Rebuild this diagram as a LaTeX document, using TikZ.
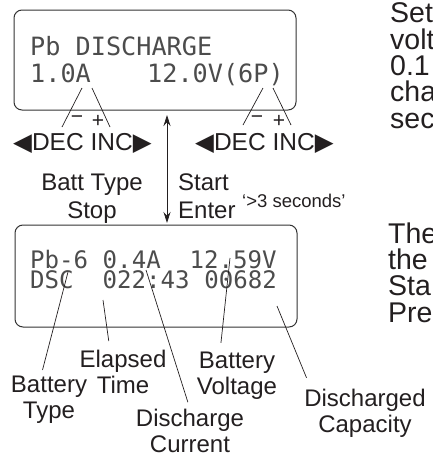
\documentclass[tikz,border=0pt]{standalone}
\usepackage{fontspec}
\usetikzlibrary{arrows.meta}
\setmainfont{Liberation Sans}
\newfontfamily\lcdfont{DejaVu Sans Mono}
\newfontfamily\symfont{DejaVu Sans}
\definecolor{ink}{HTML}{231F20}
\tikzset{
  lcd/.style={rounded corners=8pt, line width=1pt, draw=black!80},
  lcdtop/.style={anchor=base west, inner sep=0pt, text=black!70, font=\lcdfont\fontsize{25.2}{25}\selectfont},
  lcdbot/.style={anchor=base west, inner sep=0pt, text=black!70, font=\lcdfont\fontsize{24.1}{24}\selectfont},
  keys/.style={anchor=base west, inner sep=0pt, font=\fontsize{24.5}{24}\selectfont},
  sign/.style={inner sep=0pt, font=\fontsize{21}{21}\selectfont},
  lbl/.style={anchor=base, align=center, inner sep=0pt, font=\fontsize{24}{25.5}\selectfont},
  side/.style={anchor=base west, align=left, inner sep=0pt, font=\fontsize{28.5}{26.3}\selectfont},
  callout/.style={line width=0.7pt}
}
\begin{document}
\begin{tikzpicture}[x=1pt, y=-1pt, >={Stealth[length=11pt,width=7pt]}, color=ink]
 \clip (0,0) rectangle (432,456);
 % upper display
 \draw[lcd] (14,10) rectangle (296,110);
 \node[lcdtop] (set1) at (30,55) {Pb DISCHARGE};
 \node[lcdtop] (setI) at (30,82) {1.0A};
 \node[lcdtop] (setV) at (147,82) {12.0V(6P)};
 % keys under the display
 \node[keys] (keyL) at (13,150) {{\symfont ◀}DEC INC{\symfont ▶}};
 \node[keys] (keyR) at (195,150) {{\symfont ◀}DEC INC{\symfont ▶}};
 \node[sign] (minL) at (77,120) {−};
 \node[sign] (plsL) at (98,121) {+};
 \node[sign] (minR) at (257,120) {−};
 \node[sign] (plsR) at (279,121) {+};
 \coordinate (iDec) at (82,88);
 \coordinate (iDecE) at (62,127);
 \coordinate (iInc) at (92,88);
 \coordinate (iIncE) at (110,127);
 \coordinate (vDec) at (263,88);
 \coordinate (vDecE) at (243,125);
 \coordinate (vInc) at (273,88);
 \coordinate (vIncE) at (291,125);
 \draw[callout] (iDec) -- (iDecE);
 \draw[callout] (iInc) -- (iIncE);
 \draw[callout] (vDec) -- (vDecE);
 \draw[callout] (vInc) -- (vIncE);
 % start / stop
 \coordinate (swTop) at (167,115);
 \coordinate (swBot) at (167,223);
 \draw[<->, line width=0.8pt] (swTop) -- (swBot);
 \node[lbl] (stop) at (92,218) {Batt Type\\[2.5pt]Stop};
 \node[lbl, anchor=base west, align=left] (start) at (178,218) {Start\\[2.5pt]Enter};
 \node[anchor=base west, inner sep=0pt, font=\fontsize{18.5}{18.5}\selectfont] (hold) at (242,207) {‘>3 seconds’};
 % lower display
 \draw[lcd] (15,225) rectangle (297,327);
 \node[lcdbot] (run1) at (30,268) {Pb-6 0.4A};
 \node[lcdbot] (runV) at (189.5,268) {12.59V};
 \node[lcdbot] (run2) at (30,288) {DSC};
 \node[lcdbot] (runT) at (102.5,288) {022:43 00682};
 % what the readings are
 \node[lbl] (bt) at (49,418) {Battery\\Type};
 \node[lbl] (et) at (123,393) {Elapsed\\Time};
 \node[lbl] (dc) at (190,452) {Discharge\\Current};
 \node[lbl] (bv) at (237,394) {Battery\\Voltage};
 \node[lbl] (cap) at (365,432) {Discharged\\Capacity};
 \coordinate (pBt) at (68,272);
 \coordinate (pEt) at (103,300);
 \coordinate (pDc) at (146,270);
 \coordinate (pBv) at (230,258);
 \coordinate (pCap) at (277,306);
 \draw[callout, shorten >=6pt] (pBt) -- ([xshift=-8pt]bt.north);
 \draw[callout, shorten >=9pt] (pEt) -- ([xshift=-13pt]et.north);
 \draw[callout, shorten >=7pt] (pDc) -- (dc.north);
 \draw[callout, shorten >=9pt] (pBv) -- ([xshift=-17pt]bv.north);
 \draw[callout, shorten >=12pt] (pCap) -- ([xshift=7pt]cap.north west);
 % text beside
 \node[side] (txt1) at (390,128) {Set\\volt\\0.1\\cha\\sec};
 \node[side] (txt2) at (388,322) {The\\the\\Sta\\Pre};
\end{tikzpicture}
\end{document}
